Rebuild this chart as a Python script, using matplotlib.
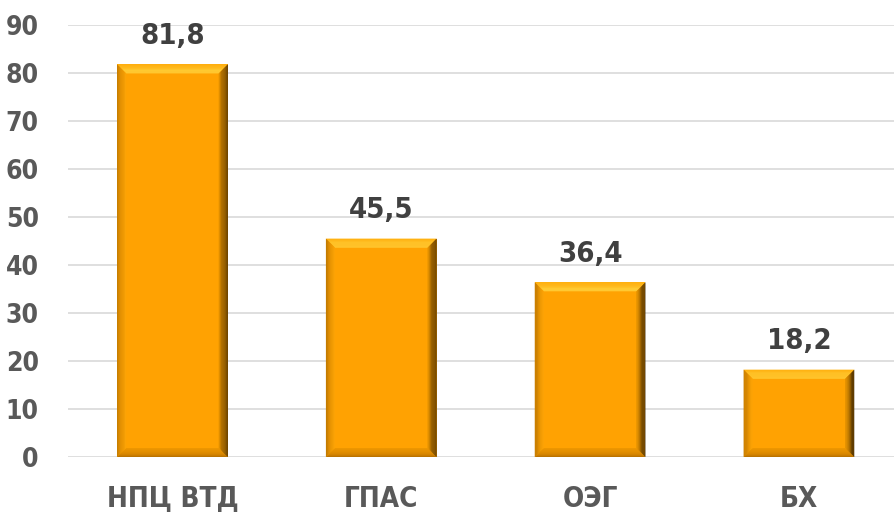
import matplotlib
matplotlib.use("Agg")
import matplotlib.pyplot as plt
from matplotlib.patches import Polygon
import numpy as np
from matplotlib.colors import to_rgb

plt.rcParams['font.family'] = ['DejaVu Sans']
plt.rcParams['font.stretch'] = 'condensed'

categories = ['НПЦ ВТД', 'ГПАС', 'ОЭГ', 'БХ']
values = [81.8, 45.5, 36.4, 18.2]
value_labels = ['81,8', '45,5', '36,4', '18,2']
y_ticks = [0, 10, 20, 30, 40, 50, 60, 70, 80, 90]

fig = plt.figure(figsize=(8.95, 5.12), dpi=100)
ax = fig.add_axes([68 / 895, 55 / 512, 1 - 68 / 895, 432 / 512])

x = list(range(len(categories)))
bars = ax.bar(x, values, width=0.53, color='#FFA202', zorder=2)

ax.set_xlim(-0.5, 3.46)
ax.set_ylim(0, 90)
ax.set_yticks(y_ticks)
ax.yaxis.grid(True, color='#D9D9D9', linewidth=1.2, zorder=0)
for s in ax.spines.values():
    s.set_visible(False)
ax.tick_params(axis='both', length=0)
ax.tick_params(axis='y', pad=21, labelsize=19, labelcolor='#595959')
ax.tick_params(axis='x', pad=20, labelsize=20, labelcolor='#595959')
ax.set_xticks(x)
ax.set_xticklabels(categories, fontweight='bold')
for lab in ax.get_yticklabels():
    lab.set_fontweight('bold')


def strips(ax, outer, inner, c_out, c_in, n=8):
    # outer/inner: 4-point quads edge lines, filled in n graded strips
    c_out, c_in = np.array(to_rgb(c_out)), np.array(to_rgb(c_in))
    (a0, a1), (b0, b1) = outer, inner
    for i in range(n):
        t0, t1 = i / n, (i + 1) / n
        p0 = np.array(a0) + (np.array(b0) - np.array(a0)) * t0
        p1 = np.array(a1) + (np.array(b1) - np.array(a1)) * t0
        q0 = np.array(a0) + (np.array(b0) - np.array(a0)) * t1
        q1 = np.array(a1) + (np.array(b1) - np.array(a1)) * t1
        c = c_out + (c_in - c_out) * (t0 + t1) / 2
        ax.add_patch(Polygon([p0, p1, q1, q0], color=c, zorder=3, lw=0))


# bevel edges on each bar
fig.canvas.draw()
px_x = (ax.get_xlim()[1] - ax.get_xlim()[0]) / ax.bbox.width
px_y = (ax.get_ylim()[1] - ax.get_ylim()[0]) / ax.bbox.height
bw = 9
for b in bars:
    x0, w, h = b.get_x(), b.get_width(), b.get_height()
    x1 = x0 + w
    dx, dy = bw * px_x, bw * px_y
    strips(ax, [(x0, h), (x1, h)], [(x0 + dx, h - dy), (x1 - dx, h - dy)], '#FFB414', '#FFD23C')
    strips(ax, [(x0, 0), (x1, 0)], [(x0 + dx, dy), (x1 - dx, dy)], '#B87000', '#F09800')
    strips(ax, [(x0, 0), (x0, h)], [(x0 + dx, dy), (x0 + dx, h - dy)], '#C07800', '#FFA606')
    strips(ax, [(x1, 0), (x1, h)], [(x1 - dx, dy), (x1 - dx, h - dy)], '#3A2400', '#E89400')

for xi, v, t in zip(x, values, value_labels):
    ax.text(xi, v + 3, t, ha='center', va='bottom', fontsize=21,
            fontweight='bold', color='#404040')

fig.savefig('out.png', dpi=100)
